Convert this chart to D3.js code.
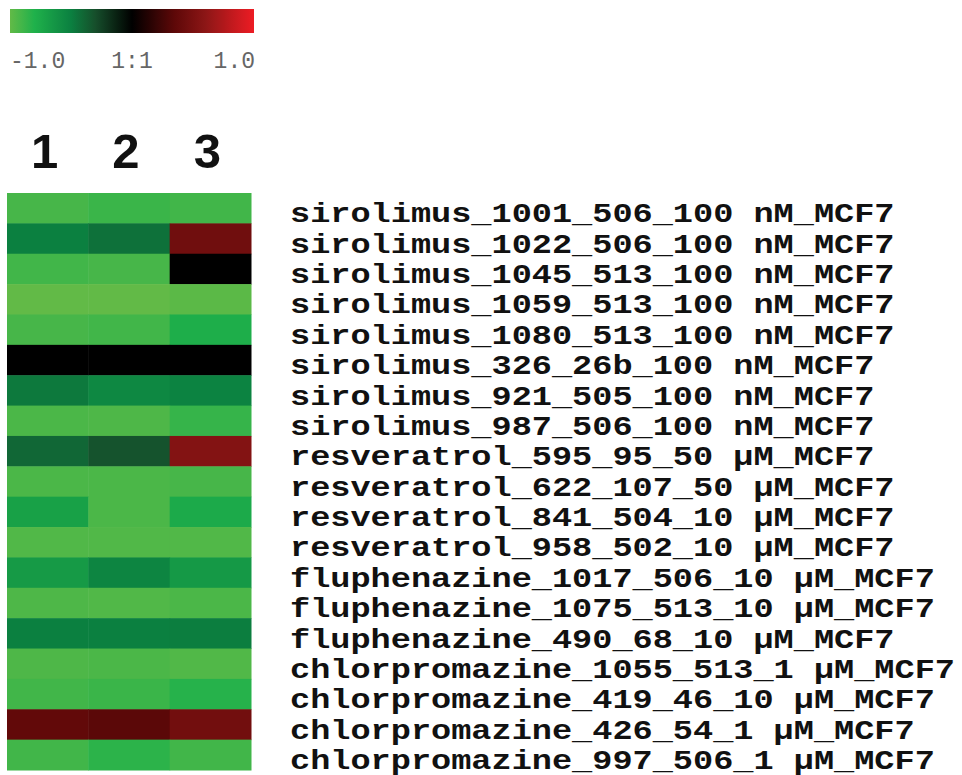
<!DOCTYPE html>
<html lang="en">
  <head>
    <meta charset="UTF-8" />
    <title>heatmap</title>
    <style>
      body {
        margin: 0;
        background: #fff;
      }
      .label {
        font-family: "Liberation Mono", "DejaVu Sans Mono", monospace;
        font-weight: bold;
        font-size: 28px;
        fill: #111;
      }
      .legend-tick {
        font-family: "Liberation Mono", monospace;
        font-size: 23px;
        fill: #666;
      }
      .col-head {
        font-family: "Liberation Sans", Arial, sans-serif;
        font-weight: bold;
        font-size: 49px;
        fill: #111;
      }
    </style>
  </head>
  <body>
    <div id="chart"></div>
    <script src="https://d3js.org/d3.v7.min.js"></script>
    <script>
      const samples = [
        "sirolimus_1001_506_100 nM_MCF7",
        "sirolimus_1022_506_100 nM_MCF7",
        "sirolimus_1045_513_100 nM_MCF7",
        "sirolimus_1059_513_100 nM_MCF7",
        "sirolimus_1080_513_100 nM_MCF7",
        "sirolimus_326_26b_100 nM_MCF7",
        "sirolimus_921_505_100 nM_MCF7",
        "sirolimus_987_506_100 nM_MCF7",
        "resveratrol_595_95_50 µM_MCF7",
        "resveratrol_622_107_50 µM_MCF7",
        "resveratrol_841_504_10 µM_MCF7",
        "resveratrol_958_502_10 µM_MCF7",
        "fluphenazine_1017_506_10 µM_MCF7",
        "fluphenazine_1075_513_10 µM_MCF7",
        "fluphenazine_490_68_10 µM_MCF7",
        "chlorpromazine_1055_513_1 µM_MCF7",
        "chlorpromazine_419_46_10 µM_MCF7",
        "chlorpromazine_426_54_1 µM_MCF7",
        "chlorpromazine_997_506_1 µM_MCF7"
      ];
      const columns = ["1", "2", "3"];

      // estimated log ratios, one array per column
      const col1 = [-0.92, -0.5, -0.9, -1.0, -0.92, 0.0, -0.47, -0.93, -0.4, -0.93, -0.7, -0.95, -0.66, -0.94, -0.5, -0.94, -0.9, 0.37, -0.9];
      const col2 = [-0.88, -0.44, -0.92, -1.0, -0.9, 0.0, -0.55, -0.94, -0.32, -0.93, -0.93, -0.95, -0.53, -0.95, -0.5, -0.93, -0.88, 0.34, -0.84];
      const col3 = [-0.9, 0.45, 0.0, -0.98, -0.78, 0.0, -0.52, -0.87, 0.55, -0.92, -0.76, -0.95, -0.65, -0.93, -0.49, -0.95, -0.82, 0.46, -0.9];

      const legendTicks = ["-1.0", "1:1", "1.0"];

      const colorStops = [-1, -0.8, -0.5, -0.3, 0, 0.35, 0.6, 1];
      const colorRange = ["#62ba47", "#1fb14b", "#0b8040", "#164e2b", "#000000", "#5e0808", "#8c1616", "#ed1c24"];

      const width = 962;
      const height = 775;

      const color = d3.scaleLinear()
        .domain(colorStops)
        .range(colorRange)
        .interpolate(d3.interpolateRgb)
        .clamp(true);

      const svg = d3.select("#chart")
        .append("svg")
        .attr("width", width)
        .attr("height", height);

      // legend bar
      const legendX = d3.scaleLinear().domain([-1, 1]).range([10, 254]);
      const grad = svg.append("defs")
        .append("linearGradient")
        .attr("id", "lg");
      grad.selectAll("stop")
        .data(d3.range(0, 41).map(i => -1 + i * 0.05))
        .enter().append("stop")
        .attr("offset", d => ((d + 1) / 2 * 100) + "%")
        .attr("stop-color", d => color(d));

      svg.append("rect")
        .attr("x", legendX(-1))
        .attr("y", 9)
        .attr("width", legendX(1) - legendX(-1))
        .attr("height", 24)
        .attr("fill", "url(#lg)");

      svg.append("g")
        .selectAll("text")
        .data(legendTicks)
        .enter().append("text")
        .attr("class", "legend-tick")
        .attr("x", (d, i) => [legendX(-1), legendX(0), legendX(1) + 1][i])
        .attr("y", 68)
        .attr("text-anchor", (d, i) => ["start", "middle", "end"][i])
        .text(d => d);

      // heatmap
      const x = d3.scaleBand().domain(columns).range([7, 251]);
      const y = d3.scaleBand().domain(samples).range([193, 770]);

      const cells = [];
      samples.forEach((s, i) => {
        [col1, col2, col3].forEach((col, j) => {
          cells.push({ sample: s, column: columns[j], value: col[i] });
        });
      });

      svg.append("g")
        .selectAll("rect")
        .data(cells)
        .enter().append("rect")
        .attr("x", d => x(d.column))
        .attr("y", d => y(d.sample))
        .attr("width", x.bandwidth() + 0.5)
        .attr("height", y.bandwidth() + 0.5)
        .attr("fill", d => color(d.value));

      svg.append("g")
        .selectAll("text")
        .data(columns)
        .enter().append("text")
        .attr("class", "col-head")
        .attr("x", d => x(d) + x.bandwidth() / 2 - 3)
        .attr("y", 168)
        .attr("text-anchor", "middle")
        .text(d => d);

      // row labels, stretched a little to match the wide monospace
      svg.append("g")
        .selectAll("text")
        .data(samples)
        .enter().append("text")
        .attr("class", "label")
        .attr("transform", d => `translate(290,${y(d) + y.bandwidth() - 1}) scale(1.2,1)`)
        .text(d => d);
    </script>
  </body>
</html>
